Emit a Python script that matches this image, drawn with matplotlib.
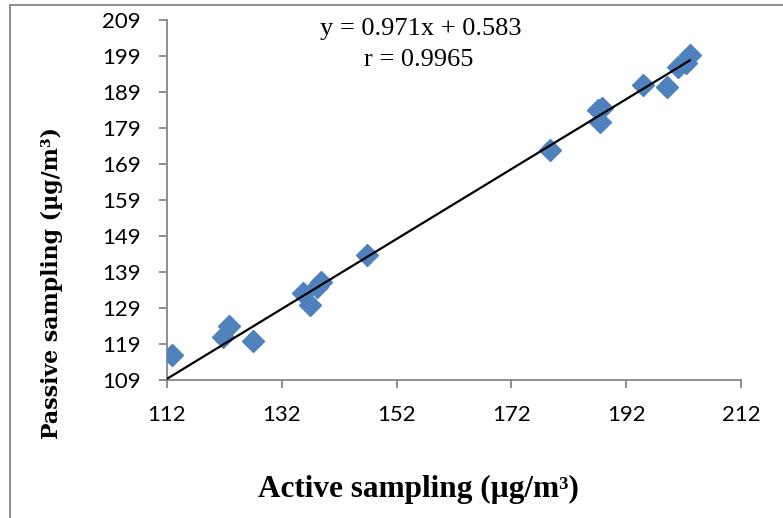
import numpy as np
import matplotlib
matplotlib.use("Agg")
import matplotlib.pyplot as plt
from matplotlib.lines import Line2D

# values
active = [112.9, 121.8, 122.8, 126.9, 135.7, 136.9, 138.1, 138.9, 146.9,
          178.7, 187.1, 187.4, 187.8, 195.0, 199.1, 201.1, 202.5, 203.1]
passive = [115.9, 121.0, 124.0, 119.9, 133.1, 129.8, 134.9, 136.3, 143.7,
           172.9, 184.0, 180.7, 184.6, 190.9, 190.5, 196.0, 197.0, 199.3]
slope = 0.971
intercept = 0.583
r_value = 0.9965
x_ticks = [112, 132, 152, 172, 192, 212]
y_ticks = [109, 119, 129, 139, 149, 159, 169, 179, 189, 199, 209]

fig = plt.figure(figsize=(7.83, 5.18), dpi=100)
ax = fig.add_axes([167 / 783, 1 - 380 / 518, 574 / 783, 360 / 518])

ax.plot(active, passive, linestyle="none", marker="D", ms=11,
        color="#4F81BD", mec="#4F81BD", zorder=3)
xl = np.array([x_ticks[0], max(active)])
ax.plot(xl, slope * xl + intercept, color="black", lw=1.6, zorder=4)

ax.set_xlim(x_ticks[0], x_ticks[-1])
ax.set_ylim(y_ticks[0], y_ticks[-1])
ax.set_xticks(x_ticks)
ax.set_yticks(y_ticks)

for s in ["top", "right"]:
    ax.spines[s].set_visible(False)
for s in ["left", "bottom"]:
    ax.spines[s].set_color("#868686")
    ax.spines[s].set_linewidth(1.3)
ax.tick_params(direction="out", length=6, width=1.3, color="#868686",
               labelsize=16)
for lab in ax.get_xticklabels() + ax.get_yticklabels():
    lab.set_family("Lato")
ax.tick_params(axis="x", pad=12)
ax.tick_params(axis="y", pad=13)

fig.text(421 / 783, 1 - 29 / 518, "y = %.3fx + %.3f" % (slope, intercept),
         ha="center", va="center", family="Liberation Serif", fontsize=19)
fig.text(419 / 783, 1 - 60 / 518, "r = %.4f" % r_value,
         ha="center", va="center", family="Liberation Serif", fontsize=19)

fig.text(418 / 783, 1 - 489 / 518, "Active sampling (\u00b5g/m\u00b3)",
         ha="center", va="center", family="Liberation Serif",
         fontweight="bold", fontsize=22.5)
fig.text(52 / 783, 1 - 283 / 518, "Passive sampling (\u00b5g/m\u00b3)",
         ha="center", va="center", rotation=90, family="DejaVu Serif",
         fontweight="bold", fontsize=15.8)

# outer chart border (only top and left visible in the crop)
fig.add_artist(Line2D([10 / 783, 10 / 783], [0, 1 - 5 / 518],
                      color="#868686", lw=1.3, transform=fig.transFigure))
fig.add_artist(Line2D([10 / 783, 1], [1 - 5 / 518, 1 - 5 / 518],
                      color="#868686", lw=1.3, transform=fig.transFigure))

fig.savefig("out.png", dpi=100)
